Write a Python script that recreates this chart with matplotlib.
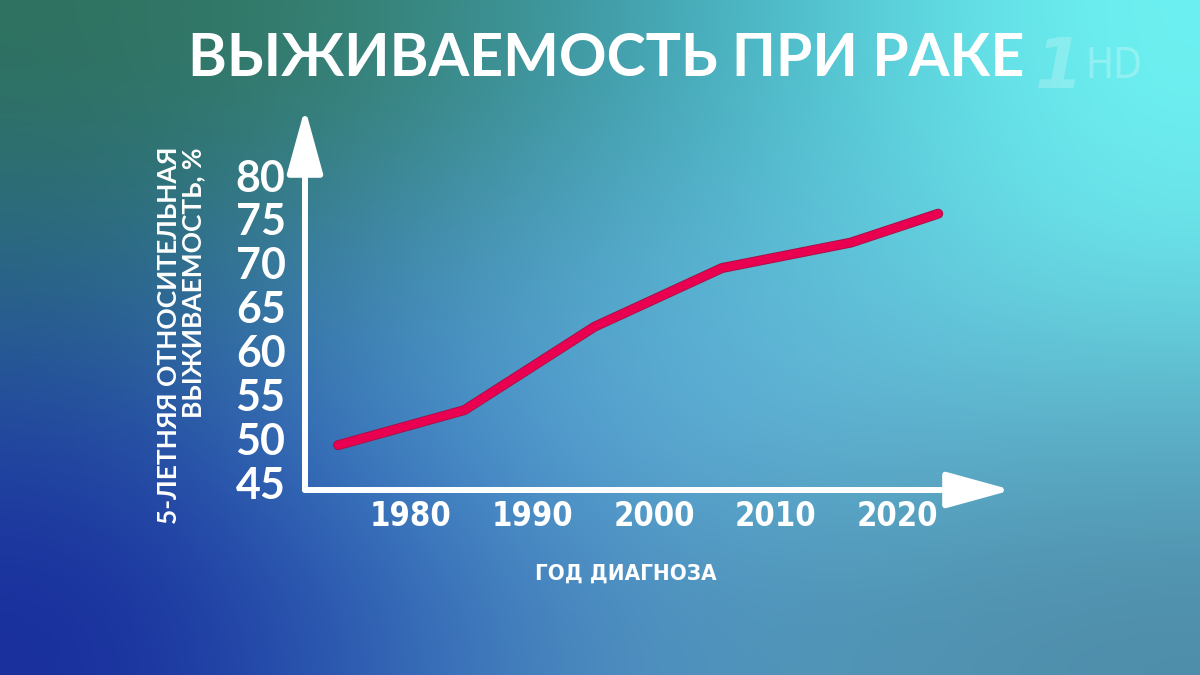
import numpy as np
import matplotlib
matplotlib.use("agg")
import matplotlib.pyplot as plt
import matplotlib.patheffects as pe
from matplotlib.colors import to_rgb

# data
years = [1974.0, 1984.4, 1995.1, 2005.6, 2016.2, 2023.4]
survival = [49.2, 53.2, 62.7, 69.4, 72.3, 75.6]
xticks = [1980, 1990, 2000, 2010, 2020]
yticks = [45, 50, 55, 60, 65, 70, 75, 80]

title = "ВЫЖИВАЕМОСТЬ ПРИ РАКЕ"
ylabel = "5-ЛЕТНЯЯ ОТНОСИТЕЛЬНАЯ\nВЫЖИВАЕМОСТЬ, %"
xlabel = "ГОД ДИАГНОЗА"

# background gradient colours, rows top -> bottom, cols left -> right
bg_colors = [
    ["#2f7260", "#35806e", "#3f9aa8", "#55c8d5", "#6ef2f2"],
    ["#2a6a82", "#3f85aa", "#55a8cc", "#60c2da", "#6ae2e8"],
    ["#2348a2", "#3f80c2", "#5aa8d5", "#62b5d5", "#5cb0c8"],
    ["#182d9c", "#2c5cb2", "#4f90c2", "#5095b5", "#4f8daa"],
]

head_font = "Lato"

fig = plt.figure(figsize=(12, 6.75), dpi=100)

bg = fig.add_axes([0, 0, 1, 1])
grid = np.array([[to_rgb(c) for c in row] for row in bg_colors])
bg.imshow(grid, aspect="auto", interpolation="bicubic", extent=[0, 1, 0, 1])
bg.set_axis_off()

fig.text(0.505, 1 - 59 / 675, title, color="white", fontsize=42.5,
         fontweight="bold", family=head_font, ha="center", va="center")

# faint channel logo
fig.text(1058 / 1200, 1 - 68 / 675, "1", color="white", alpha=0.22, fontsize=50,
         fontweight="bold", fontstyle="italic", family="DejaVu Sans",
         ha="center", va="center")
fig.text(1114 / 1200, 1 - 66 / 675, "HD", color="white", alpha=0.25, fontsize=30,
         fontweight="light", family="DejaVu Sans", stretch="condensed",
         ha="center", va="center")

ax = fig.add_axes([305 / 1200, 1 - 490 / 675, (1012 - 305) / 1200, (490 - 108) / 675])
ax.patch.set_alpha(0)
ax.set_xlim(1971.28, 2029.47)
ax.set_ylim(44.09, 87.65)
for s in ax.spines.values():
    s.set_visible(False)

arrow = dict(arrowstyle="-|>,head_length=2.0,head_width=0.55", lw=4.3,
             color="white", mutation_scale=20, shrinkA=0, shrinkB=0,
             capstyle="round")
ax.annotate("", xy=(1, 0), xytext=(0, 0), xycoords="axes fraction",
            arrowprops=arrow, annotation_clip=False)
ax.annotate("", xy=(0, 1), xytext=(0, 0), xycoords="axes fraction",
            arrowprops=arrow, annotation_clip=False)

ax.plot(years, survival, color="#ea0050", lw=5.8, solid_capstyle="round",
        solid_joinstyle="round",
        path_effects=[pe.Stroke(linewidth=7.2, foreground="#a81048"), pe.Normal()])

ax.set_xticks(xticks)
ax.set_yticks(yticks)
ax.tick_params(length=0, colors="white")
ax.tick_params(axis="y", pad=14)
ax.tick_params(axis="x", pad=7)
for lab in ax.get_yticklabels():
    lab.set_family(head_font)
    lab.set_fontweight("bold")
    lab.set_fontsize(31)
for lab in ax.get_xticklabels():
    lab.set_family("DejaVu Sans")
    lab.set_stretch("condensed")
    lab.set_fontweight("bold")
    lab.set_fontsize(23.5)

fig.text(181 / 1200, 1 - 147 / 675, ylabel, color="white", fontsize=19,
         fontweight="bold", family=head_font, rotation=90,
         ha="center", va="top", multialignment="right", linespacing=1.0)
fig.text(626 / 1200, 1 - 574 / 675, xlabel, color="white", fontsize=16,
         fontweight="bold", family="DejaVu Sans", stretch="condensed",
         ha="center", va="center")

fig.savefig("out.png", dpi=100)
